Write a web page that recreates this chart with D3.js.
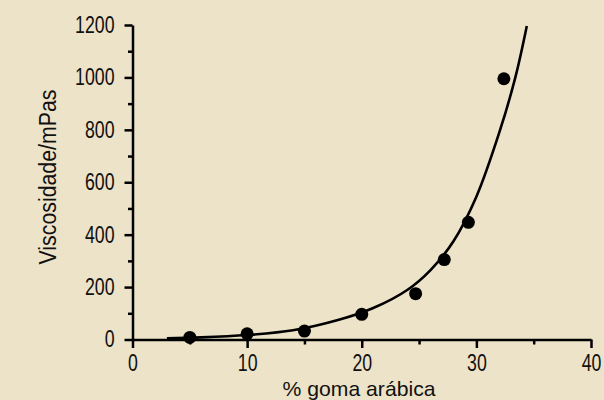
<!DOCTYPE html>
<html>
<head>
<meta charset="utf-8">
<script src="https://cdn.jsdelivr.net/npm/d3@7"></script>
<style>
  body { margin: 0; background: #ede3c8; }
  svg { display: block; }
</style>
</head>
<body>
<svg id="chart"></svg>
<script>
// tick values
const xTicks = [0, 10, 20, 30, 40];
const xMinorTicks = [5, 15, 25, 35];
const yTicks = [0, 200, 400, 600, 800, 1000, 1200];
const yMinorTicks = [100, 300, 500, 700, 900, 1100];

// measured points: % goma arábica vs viscosidade (mPas)
const goma = [5, 10, 15, 20, 24.7, 27.2, 29.3, 32.4];
const viscosidade = [8, 22, 32, 96, 175, 305, 447, 995];

// fitted curve
const fitGoma = [3, 6, 10, 14, 18, 21, 24, 26, 28, 30, 32, 33.4, 34.4];
const fitViscosidade = [5, 8, 17, 35, 75, 120, 190, 265, 375, 545, 790, 1000, 1196];

const width = 604, height = 400;
const font = '"Liberation Sans", Arial, sans-serif';
const squeeze = 0.77; // narrow look of the tick digits

const svg = d3.select("#chart")
  .attr("width", width)
  .attr("height", height)
  .attr("viewBox", `0 0 ${width} ${height}`);

svg.append("rect")
  .attr("width", width)
  .attr("height", height)
  .attr("fill", "#ede3c8");

const x = d3.scaleLinear().domain([0, 40]).range([132.5, 591]);
const y = d3.scaleLinear().domain([0, 1200]).range([339.5, 25]);

function styleAxis(g) {
  g.select(".domain").attr("stroke", "#000").attr("stroke-width", 2.5);
  g.selectAll(".tick line").attr("stroke", "#000").attr("stroke-width", 2.5);
  g.selectAll(".tick text")
    .attr("fill", "#111")
    .style("font-family", font)
    .style("font-size", "23px")
    .attr("x", function () { return (+d3.select(this).attr("x") || 0) / squeeze; })
    .attr("transform", `scale(${squeeze},1)`);
}

// minor ticks first so the main axes sit on top
svg.append("g")
  .attr("transform", `translate(0,${y(0)})`)
  .call(d3.axisBottom(x).tickValues(xMinorTicks).tickSize(5).tickSizeOuter(0).tickFormat(""))
  .call(styleAxis)
  .call(g => g.select(".domain").remove());

svg.append("g")
  .attr("transform", `translate(${x(0)},0)`)
  .call(d3.axisLeft(y).tickValues(yMinorTicks).tickSize(4.5).tickSizeOuter(0).tickFormat(""))
  .call(styleAxis)
  .call(g => g.select(".domain").remove());

svg.append("g")
  .attr("transform", `translate(0,${y(0)})`)
  .call(d3.axisBottom(x).tickValues(xTicks).tickSize(8.5).tickSizeOuter(0)
    .tickPadding(7).tickFormat(d3.format("d")))
  .call(styleAxis);

svg.append("g")
  .attr("transform", `translate(${x(0)},0)`)
  .call(d3.axisLeft(y).tickValues(yTicks).tickSize(8).tickSizeOuter(0)
    .tickPadding(10).tickFormat(d3.format("d")))
  .call(styleAxis);

// fitted curve
const line = d3.line()
  .x(d => x(d[0]))
  .y(d => y(d[1]))
  .curve(d3.curveCatmullRom);

svg.append("path")
  .datum(d3.zip(fitGoma, fitViscosidade))
  .attr("fill", "none")
  .attr("stroke", "#000")
  .attr("stroke-width", 2.6)
  .attr("d", line);

// data points
svg.append("g")
  .selectAll("circle")
  .data(d3.zip(goma, viscosidade))
  .join("circle")
  .attr("cx", d => x(d[0]))
  .attr("cy", d => y(d[1]))
  .attr("r", 6.5)
  .attr("fill", "#000");

// axis titles
svg.append("text")
  .attr("x", 359)
  .attr("y", 396)
  .attr("text-anchor", "middle")
  .attr("fill", "#111")
  .style("font-family", font)
  .style("font-size", "21px")
  .attr("textLength", 153)
  .attr("lengthAdjust", "spacingAndGlyphs")
  .text("% goma arábica");

svg.append("text")
  .attr("transform", "translate(56,177) rotate(-90)")
  .attr("text-anchor", "middle")
  .attr("fill", "#111")
  .style("font-family", font)
  .style("font-size", "23px")
  .attr("textLength", 175)
  .attr("lengthAdjust", "spacingAndGlyphs")
  .text("Viscosidade/mPas");
</script>
</body>
</html>
